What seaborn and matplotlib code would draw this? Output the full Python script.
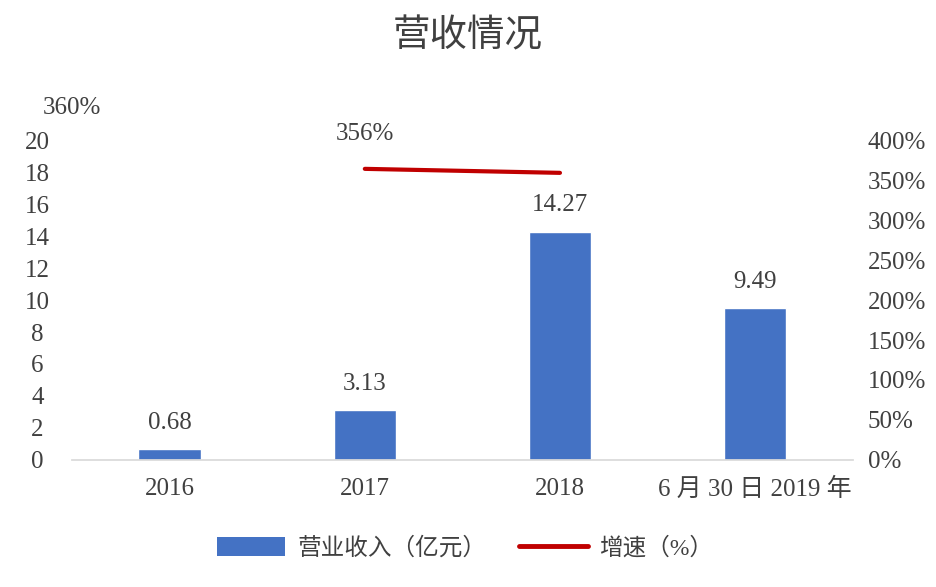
import matplotlib
matplotlib.use("Agg")
import matplotlib.pyplot as plt
import seaborn as sns
import pandas as pd
from matplotlib.patches import Patch
from matplotlib.lines import Line2D
from matplotlib.ticker import FuncFormatter

categories = ["2016", "2017", "2018", "6 月 30 日 2019 年"]
revenue = [0.68, 3.13, 14.27, 9.49]
revenue_labels = ["0.68", "3.13", "14.27", "9.49"]
growth_cats = ["2017", "2018"]
growth = [364, 359]
growth_labels = ["356%", "360%"]

sns.set_theme(style="white")
plt.rcParams["font.family"] = ["Liberation Serif", "Noto Sans CJK SC", "DejaVu Sans"]
txt_color = "#404040"
fs = 18

fig = plt.figure(figsize=(9.36, 5.87), dpi=100)
ax = fig.add_axes([0.077, 0.2164, 0.834, 0.545])

df = pd.DataFrame({"cat": categories, "rev": revenue})
sns.barplot(data=df, x="cat", y="rev", color="#4472C4", saturation=1, width=0.32, ax=ax)
ax.set_xlim(-0.5, len(categories) - 0.5)
ax.set_ylim(0, 20)
ax.set_yticks(range(0, 21, 2))
ax.set_xlabel("")
ax.set_ylabel("")
ax.bar_label(ax.containers[0], labels=revenue_labels, padding=11, fontsize=fs, color=txt_color)

for s in ["top", "left", "right"]:
    ax.spines[s].set_visible(False)
ax.spines["bottom"].set_color("#d9d9d9")
ax.tick_params(axis="x", length=0, pad=13, labelsize=fs, labelcolor=txt_color)
ax.tick_params(axis="y", length=0, pad=25, labelsize=fs, labelcolor=txt_color)
for lab in ax.get_yticklabels():
    lab.set_horizontalalignment("center")

ax2 = ax.twinx()
xpos = [categories.index(c) for c in growth_cats]
ax2.plot(xpos, growth, color="#C00000", lw=3, solid_capstyle="round")
ax2.set_ylim(0, 400)
ax2.set_yticks(range(0, 401, 50))
ax2.yaxis.set_major_formatter(FuncFormatter(lambda v, p: f"{int(v)}%"))
ax2.tick_params(axis="y", length=0, pad=11, labelsize=fs, labelcolor=txt_color)
for s in ax2.spines.values():
    s.set_visible(False)
ax2.grid(False)

# labels as they sit in the original
ax2.annotate(growth_labels[0], (xpos[0], growth[0]), xytext=(0, 17), textcoords="offset points",
             ha="center", va="bottom", fontsize=fs, color=txt_color)
fig.text(0.077, 1 - 108 / 587, growth_labels[1], ha="center", va="center", fontsize=fs, color=txt_color)

fig.text(0.5, 1 - 37 / 587, "营收情况", ha="center", va="center", fontsize=27, color=txt_color)

handles = [Patch(facecolor="#4472C4", edgecolor="none"),
           Line2D([0], [0], color="#C00000", lw=3.5, solid_capstyle="round")]
fig.legend(handles, ["营业收入（亿元）", "增速（%）"], loc="center", bbox_to_anchor=(0.497, 1 - 548 / 587),
           ncol=2, frameon=False, fontsize=17, handlelength=2.9, handleheight=0.85,
           columnspacing=1.4, handletextpad=0.5, labelcolor=txt_color)

fig.savefig("out.png", dpi=100)
